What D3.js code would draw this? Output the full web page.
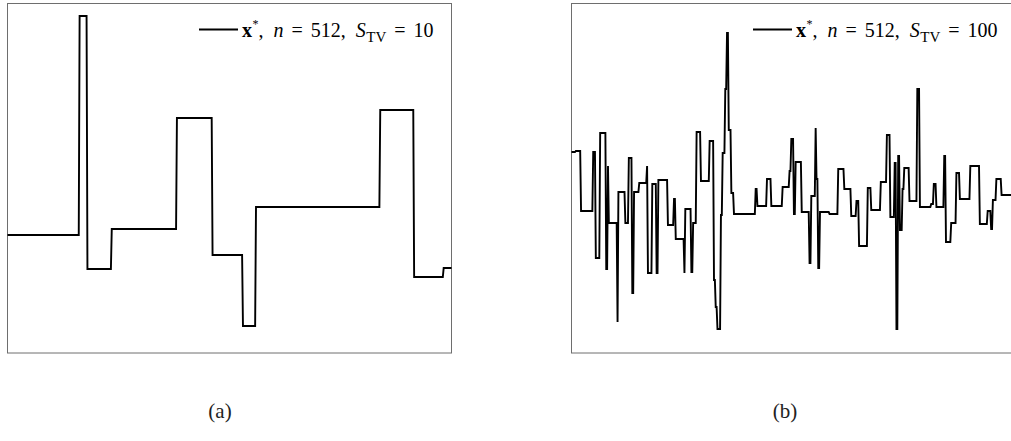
<!DOCTYPE html>
<html>
<head>
<meta charset="utf-8">
<script src="https://cdn.jsdelivr.net/npm/d3@7"></script>
<style>
  html, body { margin: 0; padding: 0; background: #fff; }
  svg { display: block; }
</style>
</head>
<body>
<svg id="chart" width="1011" height="441"></svg>
<script>
// ---- Data: piecewise-constant signals, n = 512 (index ranges + level) ----
const N = 512;

// Panel (a): S_TV = 10
const aStart = [0, 83, 92, 120, 195, 236, 271, 286, 429, 468, 502];
const aEnd   = [82, 91, 119, 194, 235, 270, 285, 428, 467, 501, 511];
const aValue = [-0.57, 1.62, -0.91, -0.51, 0.60, -0.77, -1.48, -0.29, 0.68, -0.99, -0.90];

// Panel (b): S_TV = 100
const bStart = [0,5,11,25,28,33,40,42,43,53,54,62,66,70,72,78,87,88,93,98,100,111,118,120,130,131,138,140,144,149,159,164,166,168,172,174,177,179,181,184,187,212,214,225,230,243,251,253,256,258,265,274,276,281,282,284,286,297,307,314,322,328,331,341,345,356,363,367,372,374,376,378,381,383,389,398,401,414,417,420,429,431,437,443,447,459,470,479,483,485,489,495];
const bEnd   = [4,10,24,27,32,39,41,42,52,53,61,65,69,71,77,86,87,92,97,99,110,117,119,129,130,137,139,143,148,158,163,165,167,171,173,176,178,180,183,186,211,213,224,229,242,250,252,255,257,264,273,275,280,281,283,285,296,306,313,321,327,330,340,344,355,362,366,371,373,375,377,380,382,388,397,400,413,416,419,428,430,436,442,446,458,469,478,482,484,488,494,511];
const bValue = [0.26,0.27,-0.33,0.26,-0.80,0.45,-0.91,0.12,-0.45,-1.44,-0.14,-0.45,0.20,-1.15,-0.14,-0.05,0.12,-0.95,-0.06,-0.95,-0.02,-0.47,-0.21,-0.61,-0.95,-0.31,-0.94,-0.45,0.46,-0.03,0.37,-1.02,-1.29,-1.51,-0.37,0.25,0.89,1.45,0.48,-0.15,-0.36,-0.11,-0.28,-0.01,-0.28,-0.09,0.07,0.39,-0.36,0.16,-0.34,-0.85,-0.18,0.50,-0.01,-0.90,-0.34,-0.36,0.09,-0.11,-0.38,-0.23,-0.68,-0.10,-0.32,-0.04,0.43,-0.39,0.15,-1.51,0.22,-0.52,-0.11,0.10,-0.23,0.89,-0.29,-0.26,-0.06,-0.29,0.22,-0.64,-0.45,0.05,-0.21,0.12,-0.46,-0.33,-0.51,-0.22,-0.01,-0.17];

const yDomain = [-1.75, 1.75];
const legendA = "10";
const legendB = "100";
const captions = ["(a)", "(b)"];

// ---- Drawing ----
const svg = d3.select("#chart");

function toPoints(starts, ends, values) {
  const pts = [];
  starts.forEach((s, k) => {
    pts.push([s, values[k]]);
    if (ends[k] !== s) pts.push([ends[k], values[k]]);
  });
  return pts;
}

function panel(left, starts, ends, values, stv, caption, capX, legX) {
  const width = 444, top = 3.5, height = 349.5;
  const x = d3.scaleLinear().domain([0, N - 1]).range([left, left + width]);
  const y = d3.scaleLinear().domain(yDomain).range([353, 3]);
  const g = svg.append("g");

  g.append("rect")
    .attr("x", left).attr("y", top)
    .attr("width", width).attr("height", height)
    .attr("fill", "none").attr("stroke", "#6e6e6e").attr("stroke-width", 1);

  const line = d3.line().x(d => x(d[0])).y(d => y(d[1]));
  g.append("path")
    .datum(toPoints(starts, ends, values))
    .attr("d", line)
    .attr("fill", "none")
    .attr("stroke", "#000")
    .attr("stroke-width", 1.9)
    .attr("stroke-linejoin", "miter");

  // legend
  g.append("line")
    .attr("x1", legX).attr("x2", legX + 39)
    .attr("y1", 29.5).attr("y2", 29.5)
    .attr("stroke", "#000").attr("stroke-width", 1.9);

  const t = g.append("text")
    .attr("x", legX + 43).attr("y", 36.5)
    .attr("font-family", "'Liberation Serif', 'Times New Roman', serif")
    .attr("font-size", 20).attr("fill", "#000");
  t.append("tspan").attr("font-weight", "bold").text("x");
  t.append("tspan").attr("font-size", 12).attr("dy", -8.5).attr("dx", 0.5).text("*");
  t.append("tspan").attr("dy", 8.5).text(",");
  t.append("tspan").attr("font-style", "italic").attr("dx", 10).text("n");
  t.append("tspan").attr("dx", 8).text("=");
  t.append("tspan").attr("dx", 8).text("512,");
  t.append("tspan").attr("font-style", "italic").attr("dx", 10).text("S");
  t.append("tspan").attr("font-size", 15).attr("dy", 5.5).attr("dx", 0.5).text("TV");
  t.append("tspan").attr("dy", -5.5).attr("dx", 8).text("=");
  t.append("tspan").attr("dx", 8).text(stv);

  svg.append("text")
    .attr("x", capX).attr("y", 418)
    .attr("text-anchor", "middle")
    .attr("font-family", "'Liberation Serif', serif")
    .attr("font-size", 21).attr("fill", "#222")
    .text(caption);
}

panel(7.5, aStart, aEnd, aValue, legendA, captions[0], 220, 199);
panel(571.5, bStart, bEnd, bValue, legendB, captions[1], 785, 753);
</script>
</body>
</html>
